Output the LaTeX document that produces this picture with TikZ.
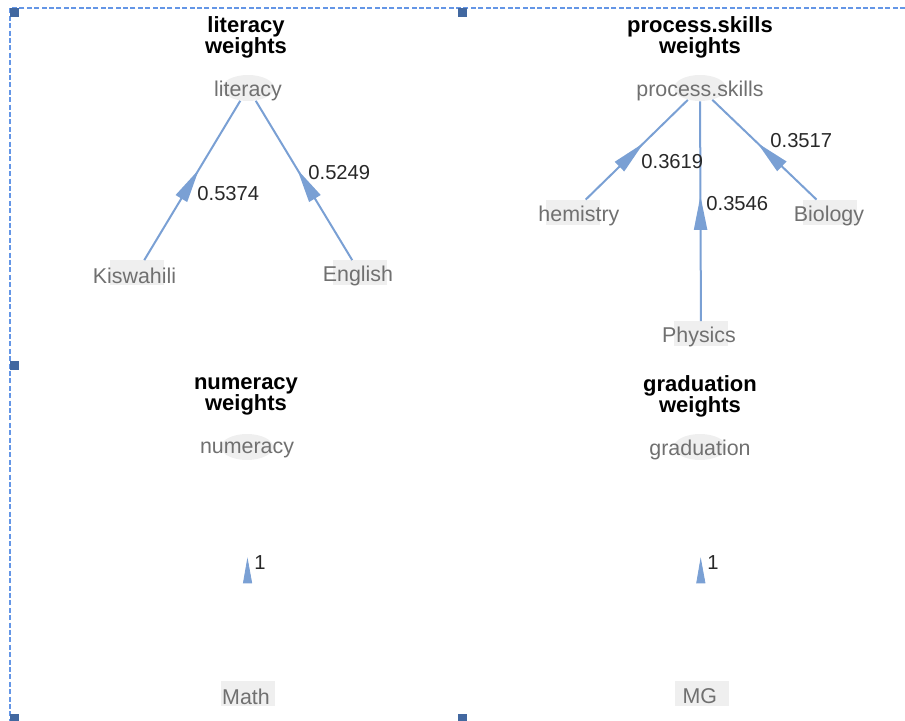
\documentclass[tikz,border=0pt]{standalone}
\usepackage{fontspec}
\setmainfont{Liberation Sans}
\usetikzlibrary{positioning, shapes.geometric, arrows.meta, decorations.markings}

\definecolor{edgeblue}{RGB}{122,160,212}
\definecolor{selblue}{RGB}{100,150,230}
\definecolor{handleblue}{RGB}{66,104,160}
\definecolor{bgfill}{RGB}{239,239,239}
\definecolor{nodegray}{RGB}{112,112,112}
\definecolor{labeldark}{RGB}{40,40,40}

\tikzset{
	factor/.style={ellipse, fill=bgfill, minimum width=26pt, minimum height=13pt, inner sep=0pt},
	indicator/.style={rectangle, fill=bgfill, minimum width=27pt, minimum height=12.5pt, inner sep=0pt},
	paneltitle/.style={align=center, font=\bfseries\fontsize{11}{10.5}\selectfont},
	weight/.style={anchor=west, inner sep=0pt, text=labeldark, font=\fontsize{10.1}{12}\selectfont},
	every label/.style={inner sep=0pt, text=nodegray, yshift=-1.5pt, font=\fontsize{10.7}{12}\selectfont},
	link/.style={draw=edgeblue, line width=1pt, postaction={decorate},
		decoration={markings, mark=at position 0.57 with {\arrow[edgeblue]{Triangle[length=17pt, width=6.5pt]}}}},
	weaklink/.style={postaction={decorate},
		decoration={markings, mark=at position 0.56 with {\arrow[edgeblue]{Triangle[length=13pt, width=4.5pt]}}}},
}

\begin{document}
\begin{tikzpicture}[x=0.5pt, y=-0.5pt]
		% 画布大小与参考图一致
		\useasboundingbox (0, 0) rectangle (905, 721);

		% 选择框的虚线和控制点
		\draw[selblue, line width=0.75pt, dash pattern=on 2.5pt off 1.2pt] (905, 8) -- (10, 8) -- (10, 721);
		\foreach \x/\y in {14.5/13, 462/13, 14.5/366, 14.5/718, 462/718} {
				\fill[handleblue] (\x, \y) ++(-4.5, -4.5) rectangle ++(9, 9);
			}

		% 四个面板的标题
		\node[paneltitle] (t-lit) at (246, 37) {literacy\\weights};
		\node[paneltitle] (t-pro) at (700, 37) {process.skills\\weights};
		\node[paneltitle] (t-num) at (246, 396) {numeracy\\weights};
		\node[paneltitle] (t-gra) at (700, 396) {graduation\\weights};

		% 上层因子 (椭圆)
		\node[factor, label={center:literacy}] (lit) at (248, 88) {};
		\node[factor, label={center:process.skills}] (pro) at (700, 88) {};
		\node[factor, label={center:numeracy}] (num) at (247, 447) {};
		\node[factor, label={center:graduation}] (gra) at (700, 447) {};

		% 下层指标 (矩形)
		\node[indicator, label={[xshift=-1pt]center:Kiswahili}] (kis) at (136.5, 273) {};
		\node[indicator, label={[xshift=-1pt]center:English}] (eng) at (360, 273) {};
		\node[indicator, label={[xshift=3.2pt]center:hemistry}] (che) at (572.5, 212.5) {};
		\node[indicator, label={[xshift=-1pt]center:Physics}] (phy) at (701, 334) {};
		\node[indicator, label={[xshift=-0.5pt]center:Biology}] (bio) at (830, 212.5) {};
		\node[indicator, label={[xshift=-1pt]center:Math}] (mat) at (248, 693.5) {};
		\node[indicator, label={[xshift=-0.8pt]center:MG}] (mg) at (701.5, 693.5) {};

		% 指标指向因子的连线
		\foreach \a/\b in {kis/lit, eng/lit, che/pro, phy/pro, bio/pro} {
				\draw[link] (\a) -- (\b);
			}
		% 只有箭头没有线
		\path[weaklink] (mat) -- (num);
		\path[weaklink] (mg) -- (gra);

		% 权重数值
		\node[weight] (w-kis) at (197, 194) {0.5374};
		\node[weight] (w-eng) at (308, 173) {0.5249};
		\node[weight] (w-che) at (641, 162) {0.3619};
		\node[weight] (w-phy) at (706, 204) {0.3546};
		\node[weight] (w-bio) at (770, 141) {0.3517};
		\node[weight] (w-mat) at (254, 563) {1};
		\node[weight] (w-mg) at (707, 563) {1};
	\end{tikzpicture}
\end{document}
